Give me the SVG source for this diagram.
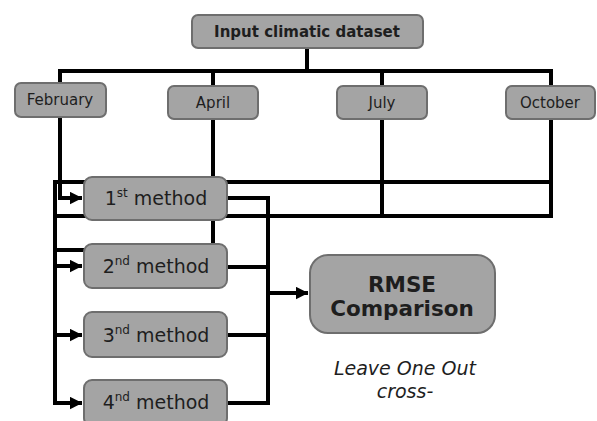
<svg xmlns="http://www.w3.org/2000/svg" width="597" height="421" viewBox="0 0 597 421">
<style>
.box{fill:#a4a4a4;stroke:#6e6e6e;stroke-width:2}
.ln{fill:none;stroke:#000;stroke-width:4;stroke-linejoin:miter;stroke-linecap:square}
.ar{fill:none;stroke:#000;stroke-width:4;stroke-linejoin:miter;stroke-linecap:butt}
.t{font-family:"DejaVu Sans","Verdana",sans-serif;fill:#1e1e1e;text-anchor:middle}
.m{font-size:15px}
.b{font-weight:bold}
.meth{font-size:19px}
</style>
<defs>
<marker id="ah" markerWidth="3.4" markerHeight="3.4" refX="3.1" refY="1.6" orient="auto" markerUnits="strokeWidth">
<path d="M0,0 L3.2,1.6 L0,3.2 z" fill="#000"/>
</marker>
</defs>
<rect width="597" height="421" fill="#fff"/>
<g id="connectors">
<path class="ln" d="M307,48 V71 M60,117 V71 H551 V119 M213,71 V86 M382,71 V86"/>
<path class="ln" d="M213,119 V244 M382,119 V216 M551,119 V216"/>
<path class="ln" d="M55,182 H551 M55,216 H551 M55,250 H90"/>
<path class="ln" d="M55,182 V403"/>
<path class="ar" d="M60,117 V198 H82" marker-end="url(#ah)"/>
<path class="ar" d="M55,266 H82" marker-end="url(#ah)"/>
<path class="ar" d="M55,335 H82" marker-end="url(#ah)"/>
<path class="ar" d="M55,403 H82" marker-end="url(#ah)"/>
<path class="ln" d="M227,198 H268 V403 H227 M227,267 H268 M227,335 H268"/>
<path class="ar" d="M268,293 H308" marker-end="url(#ah)"/>
</g>
<g id="input">
<rect class="box" x="192" y="15" width="231" height="33" rx="6"/>
<text class="t b" x="307" y="37" font-size="15">Input climatic dataset</text>
</g>
<g id="february">
<rect class="box" x="15" y="83" width="91" height="34" rx="6"/>
<text class="t m" x="60" y="105">February</text>
</g>
<g id="april">
<rect class="box" x="168" y="86" width="90" height="33" rx="6"/>
<text class="t m" x="213" y="108">April</text>
</g>
<g id="july">
<rect class="box" x="337" y="86" width="90" height="33" rx="6"/>
<text class="t m" x="382" y="108">July</text>
</g>
<g id="october">
<rect class="box" x="506" y="86" width="89" height="33" rx="6"/>
<text class="t m" x="550" y="108">October</text>
</g>
<g id="method1">
<rect class="box" x="84" y="177" width="143" height="43" rx="8"/>
<text class="t meth" x="156" y="205">1<tspan font-size="12" dy="-8">st</tspan><tspan dy="8"> method</tspan></text>
</g>
<g id="method2">
<rect class="box" x="84" y="244" width="143" height="44" rx="8"/>
<text class="t meth" x="156" y="273">2<tspan font-size="12" dy="-8">nd</tspan><tspan dy="8"> method</tspan></text>
</g>
<g id="method3">
<rect class="box" x="84" y="312" width="143" height="45" rx="8"/>
<text class="t meth" x="156" y="342">3<tspan font-size="12" dy="-8">nd</tspan><tspan dy="8"> method</tspan></text>
</g>
<g id="method4">
<rect class="box" x="84" y="380" width="143" height="46" rx="8"/>
<text class="t meth" x="156" y="409">4<tspan font-size="12" dy="-8">nd</tspan><tspan dy="8"> method</tspan></text>
</g>
<g id="rmse">
<rect class="box" x="310" y="255" width="185" height="78" rx="18"/>
<text class="t b" x="402" y="292" font-size="21.5">RMSE</text>
<text class="t b" x="402" y="316" font-size="21.5">Comparison</text>
</g>
<g id="note">
<text class="t" x="405" y="375" font-size="19" font-style="italic">Leave One Out</text>
<text class="t" x="405" y="398" font-size="19" font-style="italic">cross-</text>
</g>
</svg>
